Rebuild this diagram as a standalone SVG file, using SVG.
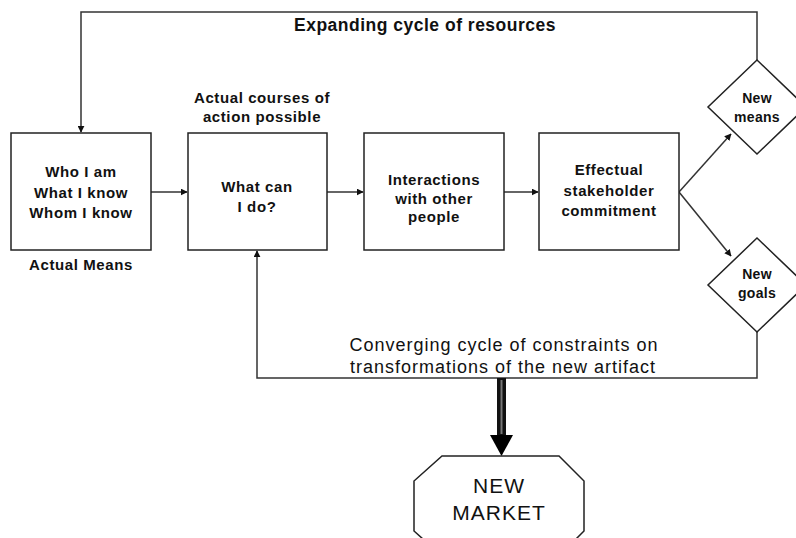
<svg xmlns="http://www.w3.org/2000/svg" width="796" height="538" viewBox="0 0 796 538">
<defs>
<style>
.box{fill:#fff;stroke:#222;stroke-width:1.5}
.ln{fill:none;stroke:#333;stroke-width:1.5}
.t{font-family:"Liberation Sans","DejaVu Sans",sans-serif;fill:#111;text-anchor:middle}
.b{font-weight:bold;font-size:15px;letter-spacing:0.6px}
.d{font-weight:bold;font-size:14px;letter-spacing:0.3px}
.lab{font-size:18px;letter-spacing:1px}
</style>
<marker id="ah" viewBox="0 0 10 10" refX="9" refY="5" markerWidth="7" markerHeight="7" markerUnits="userSpaceOnUse" orient="auto">
<path d="M0,0 L10,5 L0,10 z" fill="#111"/>
</marker>
</defs>
<rect width="796" height="538" fill="#fff"/>
<g id="connectors">
<path class="ln" d="M757,60 V12 H81 V132" marker-end="url(#ah)"/>
<path class="ln" d="M151,192 H187" marker-end="url(#ah)"/>
<path class="ln" d="M327,192 H363" marker-end="url(#ah)"/>
<path class="ln" d="M504,192 H538" marker-end="url(#ah)"/>
<path class="ln" d="M679,192 L731,134" marker-end="url(#ah)"/>
<path class="ln" d="M679,192 L731,256" marker-end="url(#ah)"/>
<path class="ln" d="M757,332 V378 H257 V251" marker-end="url(#ah)"/>
<g id="market-arrow">
<rect x="497" y="378" width="9" height="58" fill="#111"/>
<line x1="501.5" y1="380" x2="501.5" y2="434" stroke="#777" stroke-width="2"/>
<path d="M490,435 L513,435 L501.5,456 z" fill="#000"/>
</g>
</g>
<g id="n-means">
<rect class="box" x="11" y="133" width="140" height="117"/>
<text class="t b" x="81" y="177">Who I am</text>
<text class="t b" x="81" y="198">What I know</text>
<text class="t b" x="81" y="218">Whom I know</text>
</g>
<text class="t b" x="81" y="270">Actual Means</text>
<g id="n-cando">
<rect class="box" x="188" y="133" width="139" height="117"/>
<text class="t b" x="257" y="192">What can</text>
<text class="t b" x="257" y="212">I do?</text>
</g>
<text class="t b" x="262" y="103">Actual courses of</text>
<text class="t b" x="262" y="122">action possible</text>
<g id="n-interact">
<rect class="box" x="364" y="133" width="140" height="117"/>
<text class="t b" x="434" y="185">Interactions</text>
<text class="t b" x="434" y="204">with other</text>
<text class="t b" x="434" y="222">people</text>
</g>
<g id="n-commit">
<rect class="box" x="539" y="133" width="140" height="117"/>
<text class="t b" x="609" y="175">Effectual</text>
<text class="t b" x="609" y="196">stakeholder</text>
<text class="t b" x="609" y="216">commitment</text>
</g>
<g id="n-newmeans">
<path class="box" d="M757,60 L806,107 L757,154 L708,107 z"/>
<text class="t d" x="757" y="103">New</text>
<text class="t d" x="757" y="122">means</text>
</g>
<g id="n-newgoals">
<path class="box" d="M757,238 L806,285 L757,332 L708,285 z"/>
<text class="t d" x="757" y="279">New</text>
<text class="t d" x="757" y="298">goals</text>
</g>
<g id="n-market">
<path class="box" d="M442,456 L559,456 L584,481 L584,531 L559,556 L442,556 L414,531 L414,481 z"/>
<text class="t" x="499" y="493" font-size="21" letter-spacing="1">NEW</text>
<text class="t" x="499" y="520" font-size="21" letter-spacing="1">MARKET</text>
</g>
<text class="t" x="425" y="31" font-size="17.5" font-weight="bold" letter-spacing="0.5">Expanding cycle of resources</text>
<text class="t lab" x="504" y="351">Converging cycle of constraints on</text>
<text class="t lab" x="503" y="373">transformations of the new artifact</text>
</svg>
